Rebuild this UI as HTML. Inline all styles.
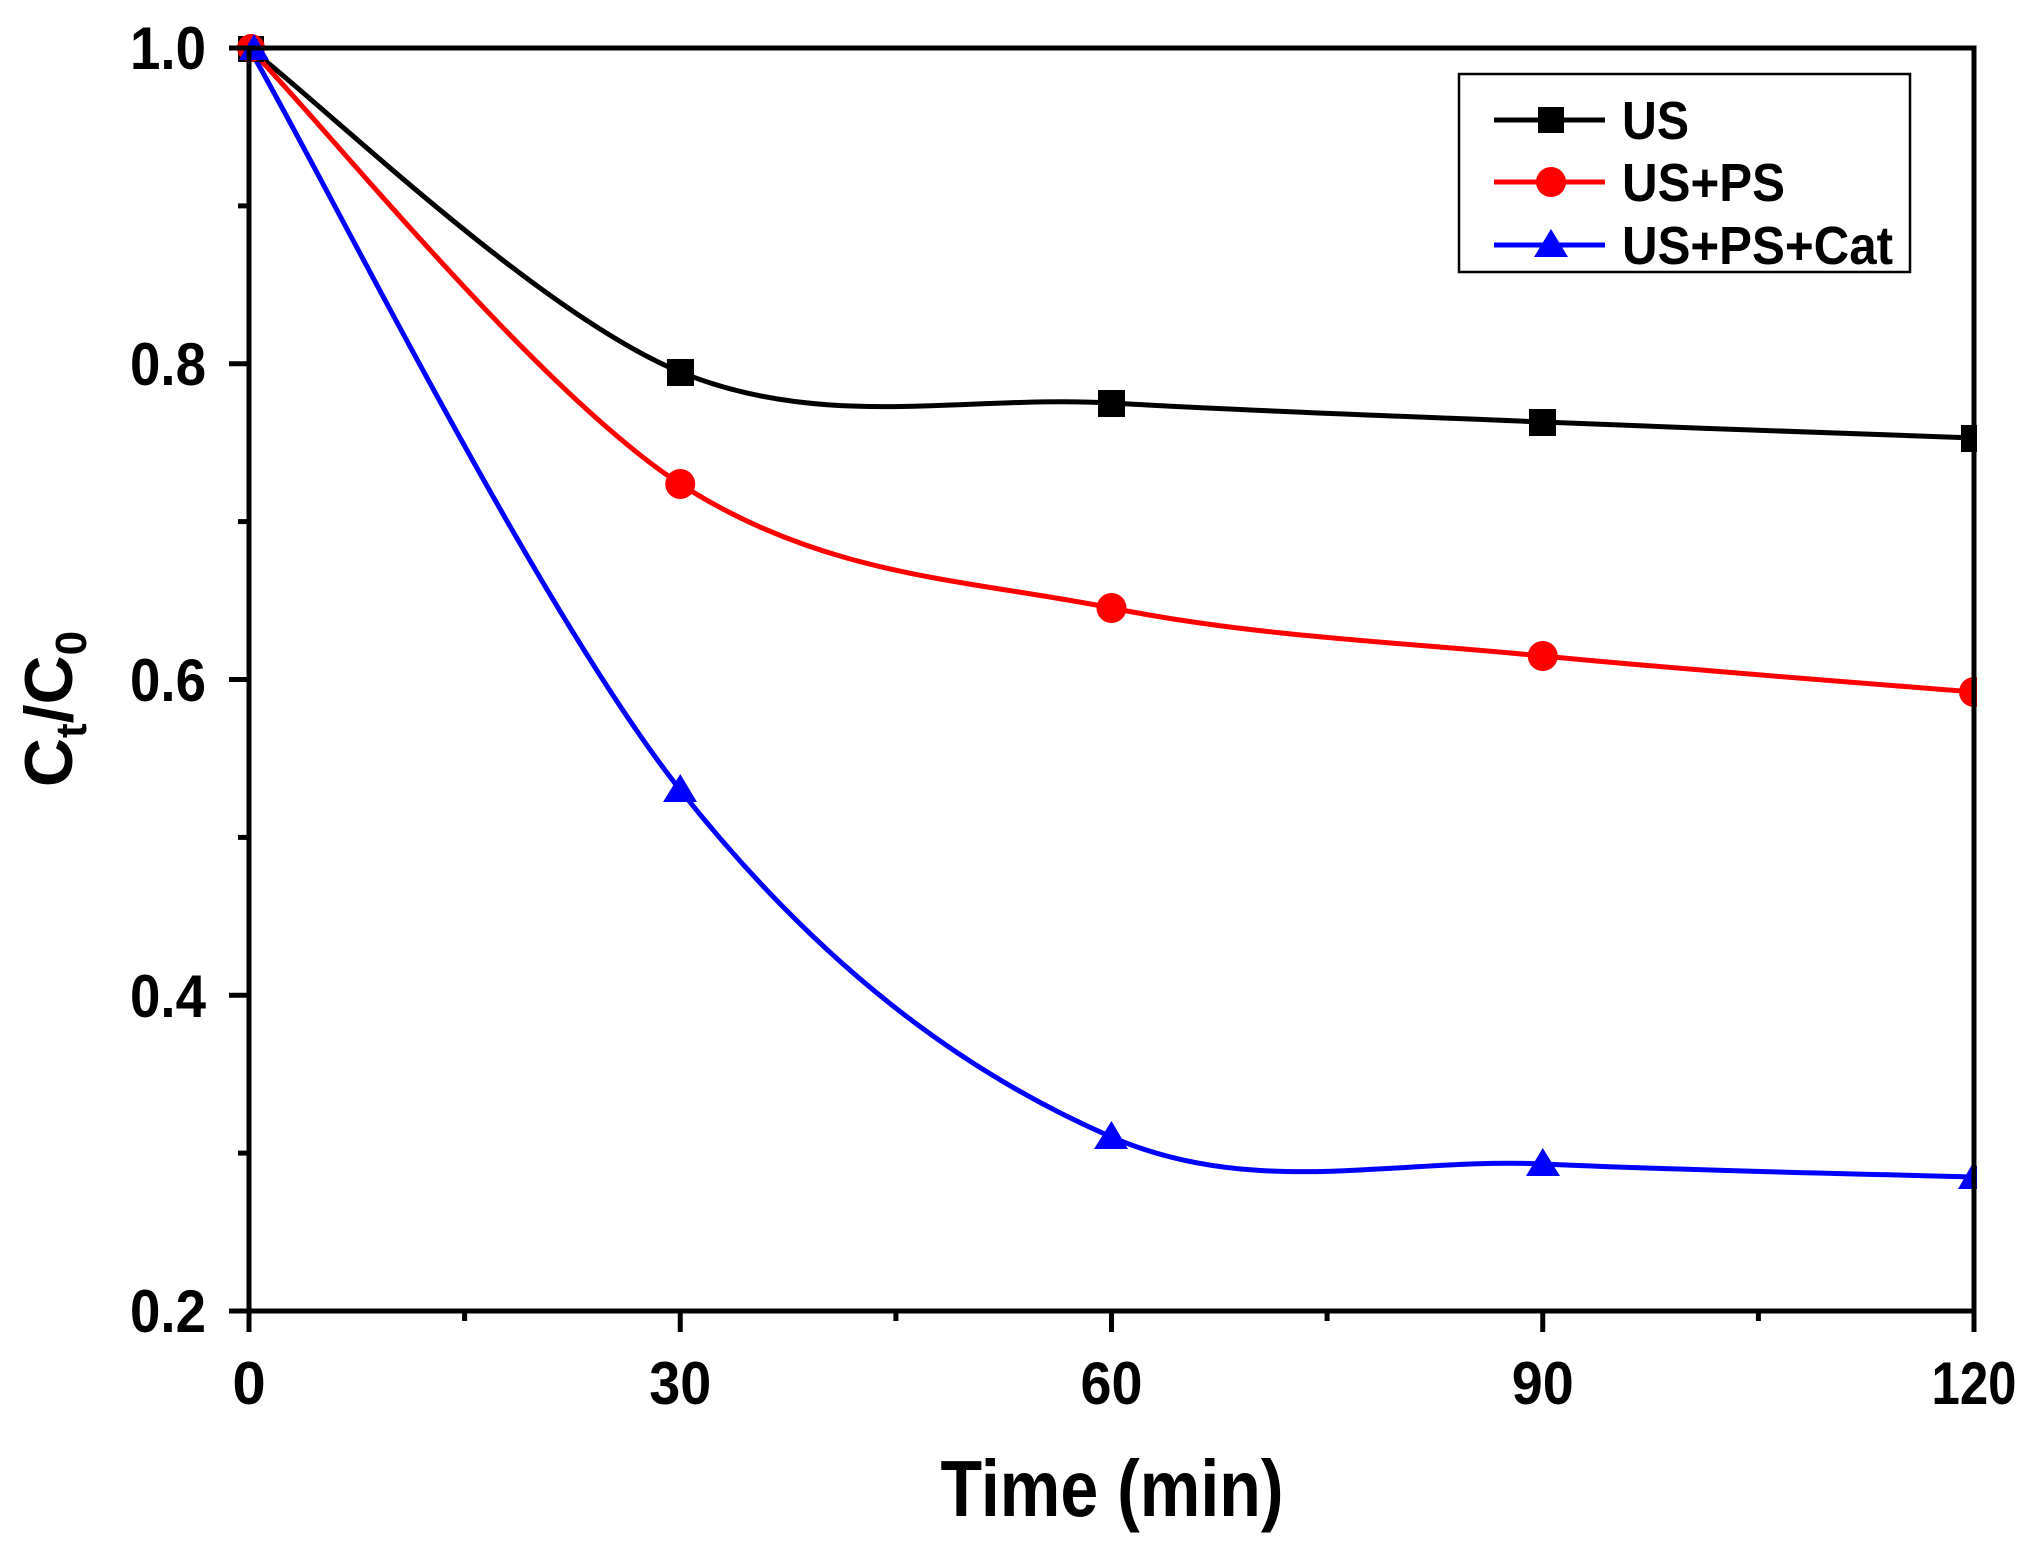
<!DOCTYPE html>
<html><head><meta charset="utf-8"><style>
html,body{margin:0;padding:0;background:#fff;}
svg{display:block;}
text{font-family:"Liberation Sans",Arial,sans-serif;font-weight:bold;}
</style></head><body>
<svg width="2043" height="1558" viewBox="0 0 2043 1558" xmlns="http://www.w3.org/2000/svg">
<rect width="2043" height="1558" fill="#fff"/>
<path d="M249,48 C321,102 536.5,312.8 680.25,372 C824,431.2 967.75,394.7 1111.5,403 C1255.25,411.3 1399,416 1542.75,422 C1686.5,428 1902,435.3 1974,438" fill="none" stroke="#000" stroke-width="5"/>
<path d="M249,48 C321,120.7 536.5,390.7 680.25,484 C824,577.3 967.75,579.3 1111.5,608 C1255.25,636.7 1399,642 1542.75,656 C1686.5,670 1902,686 1974,692" fill="none" stroke="#ff0000" stroke-width="5"/>
<path d="M249,48 C321,171.7 536.5,608.5 680.25,790 C824,971.5 967.75,1074.7 1111.5,1137 C1255.25,1199.3 1399,1157.3 1542.75,1164 C1686.5,1170.7 1902,1174.8 1974,1177" fill="none" stroke="#0000ff" stroke-width="5"/>
<g fill="#000">
<rect x="238" y="36" width="26" height="26"/><rect x="667" y="359" width="27" height="27"/><rect x="1098" y="390" width="27" height="27"/><rect x="1529" y="409" width="27" height="27"/><rect x="1961" y="425" width="27" height="27"/>
</g>
<g fill="#ff0000">
<circle cx="251" cy="48" r="14"/><circle cx="680.25" cy="484" r="15"/><circle cx="1111.5" cy="608" r="15"/><circle cx="1542.75" cy="656" r="15"/><circle cx="1974" cy="692" r="15"/>
</g>
<g fill="#0000ff">
<polygon points="254,34 239,60 269,60"/><polygon points="680.25,774 663,802 697,802"/><polygon points="1111.5,1121 1094,1149 1128,1149"/><polygon points="1542.75,1148 1526,1176 1560,1176"/><polygon points="1974,1161 1958,1189 1990,1189"/>
</g>
<rect x="1977" y="0" width="66" height="1311" fill="#fff"/>
<rect x="249" y="48" width="1725" height="1263" fill="none" stroke="#000" stroke-width="5"/>
<g stroke="#000" stroke-width="5">
<line x1="229" y1="48" x2="249" y2="48"/><line x1="229" y1="363.75" x2="249" y2="363.75"/><line x1="229" y1="679.5" x2="249" y2="679.5"/><line x1="229" y1="995.25" x2="249" y2="995.25"/><line x1="229" y1="1311" x2="249" y2="1311"/>
<line x1="238" y1="205.9" x2="249" y2="205.9"/><line x1="238" y1="521.6" x2="249" y2="521.6"/><line x1="238" y1="837.4" x2="249" y2="837.4"/><line x1="238" y1="1153.1" x2="249" y2="1153.1"/>
<line x1="249" y1="1311" x2="249" y2="1332"/><line x1="680.25" y1="1311" x2="680.25" y2="1332"/><line x1="1111.5" y1="1311" x2="1111.5" y2="1332"/><line x1="1542.75" y1="1311" x2="1542.75" y2="1332"/><line x1="1974" y1="1311" x2="1974" y2="1332"/>
<line x1="464.6" y1="1311" x2="464.6" y2="1321"/><line x1="895.9" y1="1311" x2="895.9" y2="1321"/><line x1="1327.1" y1="1311" x2="1327.1" y2="1321"/><line x1="1758.4" y1="1311" x2="1758.4" y2="1321"/>
</g>
<g font-size="60" text-anchor="end">
<text x="206" y="69" textLength="76" lengthAdjust="spacingAndGlyphs">1.0</text>
<text x="206" y="385" textLength="76" lengthAdjust="spacingAndGlyphs">0.8</text>
<text x="206" y="701" textLength="76" lengthAdjust="spacingAndGlyphs">0.6</text>
<text x="206" y="1017" textLength="76" lengthAdjust="spacingAndGlyphs">0.4</text>
<text x="206" y="1332" textLength="76" lengthAdjust="spacingAndGlyphs">0.2</text>
</g>
<g font-size="60" text-anchor="middle">
<text x="249" y="1404">0</text>
<text x="680.25" y="1404" textLength="62" lengthAdjust="spacingAndGlyphs">30</text>
<text x="1111.5" y="1404" textLength="62" lengthAdjust="spacingAndGlyphs">60</text>
<text x="1542.75" y="1404" textLength="62" lengthAdjust="spacingAndGlyphs">90</text>
<text x="1974" y="1404" textLength="85" lengthAdjust="spacingAndGlyphs">120</text>
</g>
<text x="1112" y="1516" font-size="80" text-anchor="middle" textLength="343" lengthAdjust="spacingAndGlyphs">Time (min)</text>
<text transform="translate(72,709) rotate(-90)" font-size="68" text-anchor="middle">C<tspan font-size="44" dy="14">t</tspan><tspan dy="-14">/C</tspan><tspan font-size="44" dy="14">0</tspan></text>
<rect x="1459" y="74" width="451" height="198" fill="#fff" stroke="#000" stroke-width="2.5"/>
<line x1="1494" y1="120" x2="1605" y2="120" stroke="#000" stroke-width="5"/>
<rect x="1538" y="107" width="26" height="26" fill="#000"/>
<line x1="1494" y1="182" x2="1605" y2="182" stroke="#ff0000" stroke-width="5"/>
<circle cx="1551" cy="182" r="15" fill="#ff0000"/>
<line x1="1494" y1="245" x2="1605" y2="245" stroke="#0000ff" stroke-width="5"/>
<polygon points="1551,229 1534,257 1568,257" fill="#0000ff"/>
<g font-size="54">
<text x="1622" y="139" textLength="67" lengthAdjust="spacingAndGlyphs">US</text>
<text x="1622" y="201" textLength="163" lengthAdjust="spacingAndGlyphs">US+PS</text>
<text x="1622" y="264" textLength="271" lengthAdjust="spacingAndGlyphs">US+PS+Cat</text>
</g>
</svg>
</body></html>
